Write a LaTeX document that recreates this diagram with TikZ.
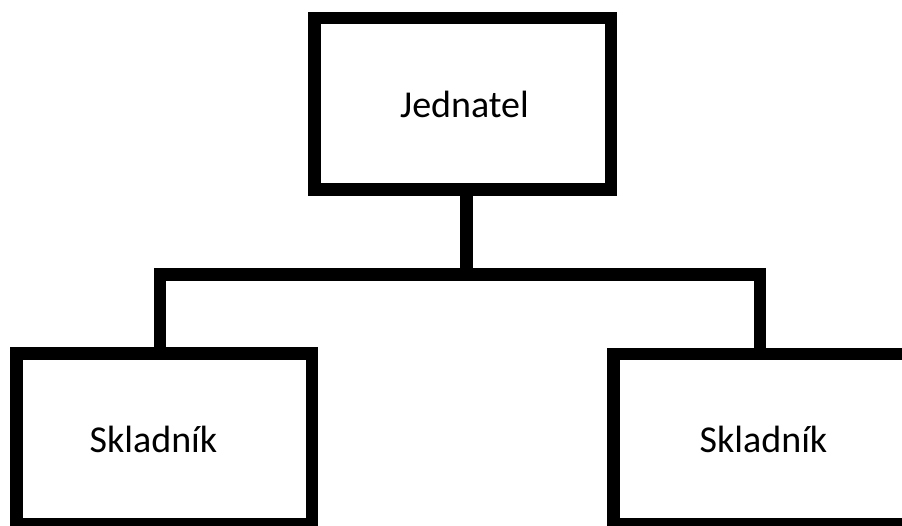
\documentclass[tikz,border=0pt]{standalone}
\usepackage{fontspec}
\setmainfont{Carlito}
\begin{document}
\begin{tikzpicture}[x=1pt,y=-1pt,
  boxline/.style={draw=black,line width=12.5pt,line join=miter,inner sep=0pt,outer sep=0pt},
  wire/.style={draw=black,line width=12.5pt,line join=miter},
  lbl/.style={font=\fontsize{38}{42}\selectfont,anchor=base,inner sep=0pt,text=black}]
\useasboundingbox (0,0) rectangle (902,525);
\clip (0,0) rectangle (902,525);
\node[boxline,minimum width=296.5pt,minimum height=171.5pt] (boss) at (462.75,103.75) {};
\node[boxline,minimum width=295.5pt,minimum height=170.75pt] (wl) at (164.25,438.9) {};
\node[boxline,minimum width=301.5pt,minimum height=170.25pt] (wr) at (764.25,439.1) {};
\node[lbl] (tboss) at (464.5,117) {Jednatel};
\node[lbl] (tl) at (153.5,452) {Skladník};
\node[lbl] (tr) at (763.5,452) {Skladník};
\coordinate (junction) at (466.5,274.5);
\coordinate (lcorner) at (160,274.5);
\coordinate (rcorner) at (760,274.5);
\draw[wire] (boss.south -| junction) -- (junction);
\draw[wire] (wl.north -| lcorner) -- (lcorner) -- (rcorner) -- (wr.north -| rcorner);
\end{tikzpicture}
\end{document}
